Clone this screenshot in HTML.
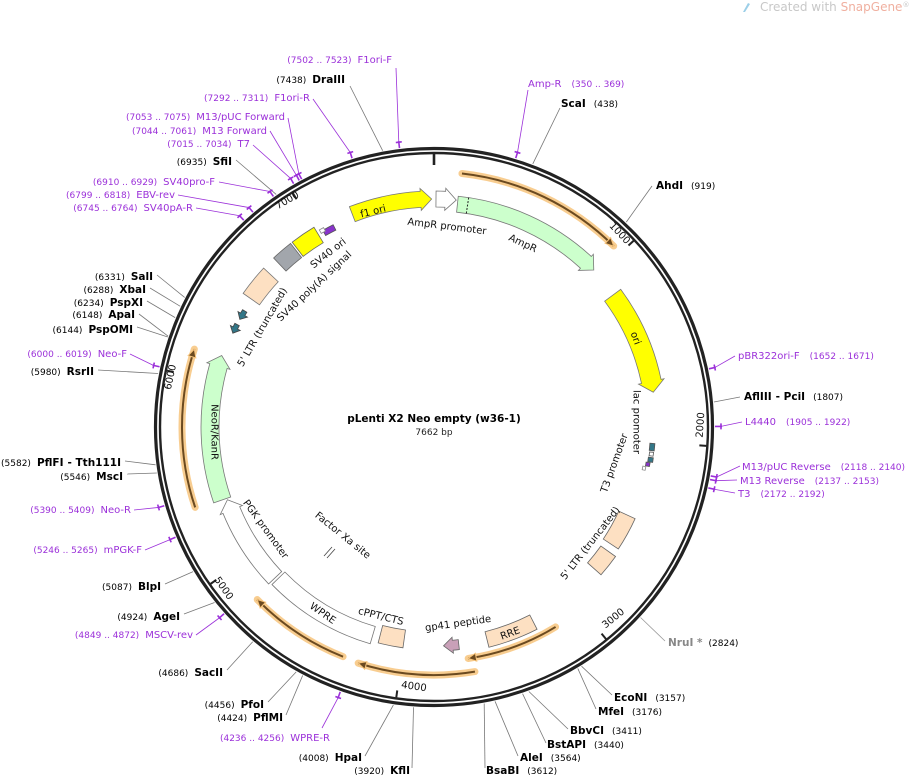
<!DOCTYPE html>
<html><head><meta charset="utf-8">
<style>
html,body{margin:0;padding:0;background:#fff;}
svg{display:block;font-family:"DejaVu Sans","Liberation Sans",sans-serif;}
.b{font-weight:bold;font-size:10.5px;fill:#000;}
.n{font-size:9px;fill:#000;}
.p{font-size:10px;fill:#9b30d9;}
.pn{font-size:9px;fill:#9b30d9;}
.f{font-size:10px;fill:#111;}
.t{font-size:10px;fill:#111;}
</style></head><body>
<svg id="s" width="912" height="778" viewBox="0 0 912 778" xmlns="http://www.w3.org/2000/svg">
<g id="geo"></g>
<text x="760" y="11" font-size="12" fill="#c8c8c8">Created with <tspan fill="#f0b0a0">SnapGene</tspan><tspan font-size="7" dy="-4">®</tspan></text>
<path d="M743 12 L748 3 L750 4 L745 12 Z" fill="#9ccfe8"/>

<text x="434" y="422" text-anchor="middle" class="b" font-size="10.5">pLenti X2 Neo empty (w36-1)</text>
<text x="434" y="435" text-anchor="middle" font-size="9" fill="#222">7662 bp</text>

<text x="345" y="83" text-anchor="end"><tspan class="n">(7438)</tspan><tspan class="b" dx="6">DraIII</tspan></text>
<text x="561" y="107"><tspan class="b">ScaI</tspan><tspan class="n" dx="8">(438)</tspan></text>
<text x="656" y="189"><tspan class="b">AhdI</tspan><tspan class="n" dx="8">(919)</tspan></text>
<text x="744" y="400"><tspan class="b">AflIII</tspan><tspan class="b" dx="4">- PciI</tspan><tspan class="n" dx="8">(1807)</tspan></text>
<text x="668" y="646"><tspan class="b" style="fill:#888">NruI *</tspan><tspan class="n" dx="6">(2824)</tspan></text>
<text x="614" y="701"><tspan class="b">EcoNI</tspan><tspan class="n" dx="8">(3157)</tspan></text>
<text x="598" y="715"><tspan class="b">MfeI</tspan><tspan class="n" dx="8">(3176)</tspan></text>
<text x="570" y="734"><tspan class="b">BbvCI</tspan><tspan class="n" dx="8">(3411)</tspan></text>
<text x="547" y="748"><tspan class="b">BstAPI</tspan><tspan class="n" dx="8">(3440)</tspan></text>
<text x="520" y="761"><tspan class="b">AleI</tspan><tspan class="n" dx="8">(3564)</tspan></text>
<text x="486" y="774"><tspan class="b">BsaBI</tspan><tspan class="n" dx="8">(3612)</tspan></text>
<text x="410" y="774" text-anchor="end"><tspan class="n">(3920)</tspan><tspan class="b" dx="6">KflI</tspan></text>
<text x="362" y="761" text-anchor="end"><tspan class="n">(4008)</tspan><tspan class="b" dx="6">HpaI</tspan></text>
<text x="283" y="721" text-anchor="end"><tspan class="n">(4424)</tspan><tspan class="b" dx="6">PflMI</tspan></text>
<text x="264" y="708" text-anchor="end"><tspan class="n">(4456)</tspan><tspan class="b" dx="6">PfoI</tspan></text>
<text x="223" y="676" text-anchor="end"><tspan class="n">(4686)</tspan><tspan class="b" dx="6">SacII</tspan></text>
<text x="180" y="620" text-anchor="end"><tspan class="n">(4924)</tspan><tspan class="b" dx="6">AgeI</tspan></text>
<text x="161" y="590" text-anchor="end"><tspan class="n">(5087)</tspan><tspan class="b" dx="6">BlpI</tspan></text>
<text x="123" y="480" text-anchor="end"><tspan class="n">(5546)</tspan><tspan class="b" dx="6">MscI</tspan></text>
<text x="121" y="466" text-anchor="end"><tspan class="n">(5582)</tspan><tspan class="b" dx="6">PflFI</tspan><tspan class="b" dx="4">- Tth111I</tspan></text>
<text x="94" y="375" text-anchor="end"><tspan class="n">(5980)</tspan><tspan class="b" dx="6">RsrII</tspan></text>
<text x="133" y="333" text-anchor="end"><tspan class="n">(6144)</tspan><tspan class="b" dx="6">PspOMI</tspan></text>
<text x="135" y="318" text-anchor="end"><tspan class="n">(6148)</tspan><tspan class="b" dx="6">ApaI</tspan></text>
<text x="143" y="306" text-anchor="end"><tspan class="n">(6234)</tspan><tspan class="b" dx="6">PspXI</tspan></text>
<text x="146" y="293" text-anchor="end"><tspan class="n">(6288)</tspan><tspan class="b" dx="6">XbaI</tspan></text>
<text x="153" y="280" text-anchor="end"><tspan class="n">(6331)</tspan><tspan class="b" dx="6">SalI</tspan></text>
<text x="232" y="165" text-anchor="end"><tspan class="n">(6935)</tspan><tspan class="b" dx="6">SfiI</tspan></text>

<text x="392" y="63" text-anchor="end"><tspan class="pn">(7502 .. 7523)</tspan><tspan class="p" dx="6">F1ori-F</tspan></text>
<text x="310" y="101" text-anchor="end"><tspan class="pn">(7292 .. 7311)</tspan><tspan class="p" dx="6">F1ori-R</tspan></text>
<text x="285" y="120" text-anchor="end"><tspan class="pn">(7053 .. 7075)</tspan><tspan class="p" dx="6">M13/pUC Forward</tspan></text>
<text x="267" y="134" text-anchor="end"><tspan class="pn">(7044 .. 7061)</tspan><tspan class="p" dx="6">M13 Forward</tspan></text>
<text x="250" y="147" text-anchor="end"><tspan class="pn">(7015 .. 7034)</tspan><tspan class="p" dx="6">T7</tspan></text>
<text x="215" y="185" text-anchor="end"><tspan class="pn">(6910 .. 6929)</tspan><tspan class="p" dx="6">SV40pro-F</tspan></text>
<text x="175" y="198" text-anchor="end"><tspan class="pn">(6799 .. 6818)</tspan><tspan class="p" dx="6">EBV-rev</tspan></text>
<text x="193" y="211" text-anchor="end"><tspan class="pn">(6745 .. 6764)</tspan><tspan class="p" dx="6">SV40pA-R</tspan></text>
<text x="127" y="357" text-anchor="end"><tspan class="pn">(6000 .. 6019)</tspan><tspan class="p" dx="6">Neo-F</tspan></text>
<text x="131" y="513" text-anchor="end"><tspan class="pn">(5390 .. 5409)</tspan><tspan class="p" dx="6">Neo-R</tspan></text>
<text x="142" y="553" text-anchor="end"><tspan class="pn">(5246 .. 5265)</tspan><tspan class="p" dx="6">mPGK-F</tspan></text>
<text x="193" y="638" text-anchor="end"><tspan class="pn">(4849 .. 4872)</tspan><tspan class="p" dx="6">MSCV-rev</tspan></text>
<text x="330" y="741" text-anchor="end"><tspan class="pn">(4236 .. 4256)</tspan><tspan class="p" dx="6">WPRE-R</tspan></text>
<text x="528" y="87"><tspan class="p">Amp-R</tspan><tspan class="pn" dx="10">(350 .. 369)</tspan></text>
<text x="738" y="359"><tspan class="p">pBR322ori-F</tspan><tspan class="pn" dx="10">(1652 .. 1671)</tspan></text>
<text x="745" y="425"><tspan class="p">L4440</tspan><tspan class="pn" dx="10">(1905 .. 1922)</tspan></text>
<text x="742" y="470"><tspan class="p">M13/pUC Reverse</tspan><tspan class="pn" dx="10">(2118 .. 2140)</tspan></text>
<text x="740" y="484"><tspan class="p">M13 Reverse</tspan><tspan class="pn" dx="10">(2137 .. 2153)</tspan></text>
<text x="738" y="497"><tspan class="p">T3</tspan><tspan class="pn" dx="10">(2172 .. 2192)</tspan></text>

<g class="t" id="ticklabels">
<text transform="translate(620,233) rotate(47)" text-anchor="middle" dy="3.5">1000</text>
<text transform="translate(700,425) rotate(-86)" text-anchor="middle" dy="3.5">2000</text>
<text transform="translate(613,618) rotate(-39)" text-anchor="middle" dy="3.5">3000</text>
<text transform="translate(414,686) rotate(8)" text-anchor="middle" dy="3.5">4000</text>
<text transform="translate(224,588) rotate(55)" text-anchor="middle" dy="3.5">5000</text>
<text transform="translate(170,377) rotate(-78)" text-anchor="middle" dy="3.5">6000</text>
<text transform="translate(287,200) rotate(-31)" text-anchor="middle" dy="3.5">7000</text>
</g>

<g id="flabels" class="f">
<text transform="translate(373,211) rotate(-14)" text-anchor="middle" dy="3.5">f1 ori</text>
<text transform="translate(447,226) rotate(7)" text-anchor="middle" dy="3.5">AmpR promoter</text>
<text transform="translate(523,243) rotate(25)" text-anchor="middle" dy="3.5">AmpR</text>
<text transform="translate(636,338) rotate(70)" text-anchor="middle" dy="3.5">ori</text>
<text transform="translate(637,422) rotate(90)" text-anchor="middle" dy="3.5">lac promoter</text>
<text transform="translate(614,463) rotate(-70)" text-anchor="middle" dy="3.5">T3 promoter</text>
<text transform="translate(590,543) rotate(-52)" text-anchor="middle" dy="3.5">5' LTR (truncated)</text>
<text transform="translate(510,633) rotate(-20)" text-anchor="middle" dy="3.5">RRE</text>
<text transform="translate(458,623) rotate(-8)" text-anchor="middle" dy="3.5">gp41 peptide</text>
<text transform="translate(381,616) rotate(14)" text-anchor="middle" dy="3.5">cPPT/CTS</text>
<text transform="translate(323,613) rotate(35)" text-anchor="middle" dy="3.5">WPRE</text>
<text transform="translate(266,529) rotate(54)" text-anchor="middle" dy="3.5">PGK promoter</text>
<text transform="translate(343,535) rotate(39)" text-anchor="middle" dy="3.5">Factor Xa site</text>
<text transform="translate(215,432) rotate(90)" text-anchor="middle" dy="3.5">NeoR/KanR</text>
<text transform="translate(262,327) rotate(-60)" text-anchor="middle" dy="3.5">5' LTR (truncated)</text>
<text transform="translate(314,286) rotate(-43)" text-anchor="middle" dy="3.5">SV40 poly(A) signal</text>
<text transform="translate(328,253) rotate(-38)" text-anchor="middle" dy="3.5">SV40 ori</text>
</g>
</svg>
<script>
(function(){
var CX=434,CY=427,N=7662,NS="http://www.w3.org/2000/svg";
var g=document.getElementById("geo");
function pt(a,r){var t=a*Math.PI/180;return [CX+r*Math.sin(t),CY-r*Math.cos(t)];}
function P(a,r){var p=pt(a,r);return p[0].toFixed(2)+","+p[1].toFixed(2);}
function bp(b){return b/N*360;}
function el(tag,attrs){var e=document.createElementNS(NS,tag);for(var k in attrs)e.setAttribute(k,attrs[k]);g.appendChild(e);return e;}
function arcD(a1,a2,r){var lg=Math.abs(a2-a1)>180?1:0;var sw=a2>a1?1:0;return "M"+P(a1,r)+" A"+r+","+r+" 0 "+lg+","+sw+" "+P(a2,r);}
function line(b,x,y,col,r){var p=pt(bp(b),r||281);el("line",{x1:p[0],y1:p[1],x2:x,y2:y,stroke:col||"#777","stroke-width":0.8});}
var enz=[[7438,350,86],[438,560,108],[919,652,186],[1807,740,397],[3157,612,695],[3176,596,709],[3411,568,729],[3440,546,743],[3564,518,756],[3612,485,768],[3920,412,768],[4008,365,756],[4424,286,715],[4456,268,702],[4686,227,670],[4924,184,614],[5087,165,584],[5546,127,474],[5582,125,461],[5980,98,370],[6144,137,327],[6148,139,314],[6234,147,301],[6288,150,288],[6331,157,275],[6935,236,160]];
enz.forEach(function(e){line(e[0],e[1],e[2],"#777");});
line(2824,665,641,"#999");
var pr=[[7512,396,68],[7301,313,99],[7064,288,118],[7052,270,131],[7024,253,145],[6920,219,182],[6808,178,195],[6755,196,208],[6010,130,354],[5400,134,510],[5255,145,550],[4860,196,635],[4246,322,728],[360,528,90],[1661,735,356],[1913,742,422],[2129,740,466],[2145,737,480],[2182,735,493]];
pr.forEach(function(e){var a=bp(e[0]);line(e[0],e[1],e[2],"#9b30d9",287);
 el("path",{d:"M"+P(a,281)+" L"+P(a,288),fill:"none",stroke:"#9b30d9","stroke-width":1.6});
 el("path",{d:"M"+P(a-0.6,287)+" A287,287 0 0,1 "+P(a+0.6,287),fill:"none",stroke:"#9b30d9","stroke-width":1.6});
});
el("circle",{cx:CX,cy:CY,r:278.5,fill:"none",stroke:"#222","stroke-width":3.2});
el("circle",{cx:CX,cy:CY,r:274,fill:"none",stroke:"#222","stroke-width":2.4});
for(var k=1;k<=7;k++){var a=bp(k*1000);el("line",{x1:pt(a,273)[0],y1:pt(a,273)[1],x2:pt(a,266)[0],y2:pt(a,266)[1],stroke:"#222","stroke-width":2});}
el("line",{x1:CX,y1:CY-273,x2:CX,y2:CY-262,stroke:"#222","stroke-width":2.6});
function feat(a1,a2,r,w,dir,fill,stroke){var ro=r+w/2,ri=r-w/2,hd=dir?Math.min((a2-a1)*0.6,11/r*57.3):0,d;
 if(dir==1){d="M"+P(a1,ro)+" A"+ro+","+ro+" 0 0,1 "+P(a2-hd,ro)+" L"+P(a2-hd,ro+3)+" L"+P(a2,r)+" L"+P(a2-hd,ri-3)+" L"+P(a2-hd,ri)+" A"+ri+","+ri+" 0 0,0 "+P(a1,ri)+" Z";}
 else if(dir==-1){d="M"+P(a1,r)+" L"+P(a1+hd,ro+3)+" L"+P(a1+hd,ro)+" A"+ro+","+ro+" 0 0,1 "+P(a2,ro)+" L"+P(a2,ri)+" A"+ri+","+ri+" 0 0,0 "+P(a1+hd,ri)+" L"+P(a1+hd,ri-3)+" Z";}
 else {d="M"+P(a1,ro)+" A"+ro+","+ro+" 0 0,1 "+P(a2,ro)+" L"+P(a2,ri)+" A"+ri+","+ri+" 0 0,0 "+P(a1,ri)+" Z";}
 el("path",{d:d,fill:fill,stroke:stroke||"#666","stroke-width":0.8});}
feat(-21,-0.6,228,16,1,"#ffff00","#777");
feat(0.5,5.6,228,16,1,"#ffffff","#777");
feat(6,45.5,224,16,1,"#ccffcc","#777");
el("path",{d:"M"+P(8.6,216)+" L"+P(8.6,232),stroke:"#222","stroke-width":1,"stroke-dasharray":"2,1.5"});
feat(53.6,81,222,20,1,"#ffff00","#777");
feat(94.3,96.2,219,5,0,"#337788","#555");
feat(96.6,97.6,219,4,0,"#fff","#555");
feat(98,99.2,219,5,0,"#337788","#555");
feat(99.4,100.4,217,4,0,"#8833cc","#555");
feat(100.6,101.6,214,3,0,"#fff","#888");
feat(114.5,123.5,212,18,0,"#fde0c2","#666");
feat(125.5,131.5,214,18,0,"#fde0c2","#666");
feat(153,166,219,16,0,"#fde0c2","#666");
feat(173.5,177.5,219,10,1,"#c9a0b8","#666");
feat(188,194.5,214,18,0,"#fde0c2","#666");
feat(196.4,225.8,217,18,0,"#ffffff","#777");
feat(226.5,250.6,219,18,1,"#ffffff","#777");
feat(251,288.6,224,18,1,"#ccffcc","#777");
feat(295,297.5,222,5,-1,"#337788","#444");
feat(299,301.5,222,5,-1,"#337788","#444");
feat(305,313,223,20,0,"#fde0c2","#777");
feat(316.5,322,224,18,0,"#a2a6ac","#666");
feat(322.5,329,224,18,0,"#ffff00","#666");
feat(330.5,333.5,223,6,0,"#8833cc","#555");
feat(329.8,331,226,4,0,"#fff","#888");
el("line",{x1:324,y1:556,x2:332,y2:547,stroke:"#444","stroke-width":0.8});
el("line",{x1:327,y1:558,x2:335,y2:549,stroke:"#444","stroke-width":0.8});
function orf(a1,a2,r,dir){var d=arcD(a1,a2,r);el("path",{d:d,fill:"none",stroke:"#f7c47c","stroke-width":7,"stroke-linecap":"round","opacity":0.85});
 el("path",{d:d,fill:"none",stroke:"#6b4a20","stroke-width":2});
 var tip=dir==1?a2:a1, back=dir==1?a2-8/r*57.3:a1+8/r*57.3;
 el("path",{d:"M"+P(tip,r)+" L"+P(back,r+4)+" L"+P(back,r-4)+" Z",fill:"#6b4a20",stroke:"#f7c47c","stroke-width":1});}
orf(6.3,44.8,255,1);
orf(148.7,171.6,234,1);
orf(170.5,197.8,248,1);
orf(201.6,225.7,247,1);
orf(251.4,288,252,1);
var s=document.getElementById("s");s.appendChild(document.getElementById("flabels"));
})();
</script>
</body></html>
